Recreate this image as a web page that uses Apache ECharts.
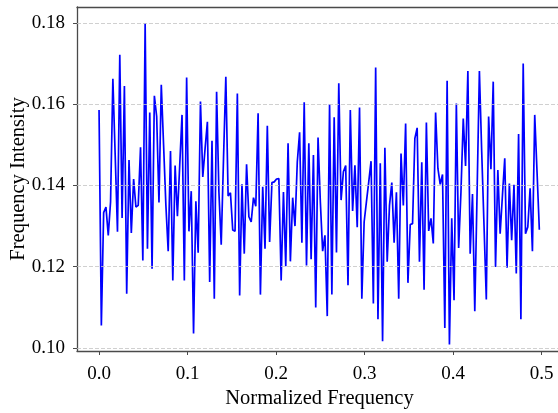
<!DOCTYPE html>
<html>
<head>
<meta charset="utf-8">
<script src="https://cdn.jsdelivr.net/npm/echarts@6/dist/echarts.min.js"></script>
<style>
html,body{margin:0;padding:0;background:#fff;}
#chart{width:558px;height:413px;}
</style>
</head>
<body>
<div id="chart"></div>
<script>
// FFT bin grid: 192 positive-frequency bins of a 384-sample signal
const fftLength = 384;
const binCount = 192;
const xTicks = [0.0, 0.1, 0.2, 0.3, 0.4, 0.5];
const yTicks = [0.10, 0.12, 0.14, 0.16, 0.18];

const intensity = [
0.1586, 0.1055, 0.1333, 0.1347, 0.1277, 0.1360, 0.1663, 0.1475, 0.1286, 0.1722,
0.1320, 0.1645, 0.1133, 0.1463, 0.1283, 0.1416, 0.1347, 0.1351, 0.1494, 0.1215,
0.1800, 0.1244, 0.1580, 0.1195, 0.1621, 0.1570, 0.1358, 0.1648, 0.1500, 0.1351,
0.1238, 0.1485, 0.1166, 0.1449, 0.1324, 0.1450, 0.1574, 0.1166, 0.1666, 0.1287,
0.1386, 0.1035, 0.1361, 0.1234, 0.1607, 0.1421, 0.1491, 0.1557, 0.1162, 0.1510,
0.1121, 0.1631, 0.1384, 0.1254, 0.1467, 0.1668, 0.1374, 0.1382, 0.1290, 0.1287,
0.1627, 0.1129, 0.1403, 0.1232, 0.1452, 0.1323, 0.1310, 0.1370, 0.1349, 0.1578,
0.1131, 0.1397, 0.1244, 0.1547, 0.1261, 0.1407, 0.1409, 0.1416, 0.1417, 0.1166,
0.1384, 0.1201, 0.1504, 0.1213, 0.1370, 0.1300, 0.1458, 0.1531, 0.1259, 0.1605,
0.1203, 0.1504, 0.1218, 0.1475, 0.1099, 0.1518, 0.1360, 0.1238, 0.1277, 0.1078,
0.1600, 0.1131, 0.1568, 0.1235, 0.1652, 0.1364, 0.1434, 0.1449, 0.1154, 0.1586,
0.1337, 0.1450, 0.1297, 0.1592, 0.1121, 0.1310, 0.1360, 0.1409, 0.1460, 0.1109,
0.1691, 0.1070, 0.1455, 0.1016, 0.1493, 0.1212, 0.1351, 0.1407, 0.1259, 0.1383,
0.1121, 0.1479, 0.1351, 0.1553, 0.1160, 0.1304, 0.1306, 0.1516, 0.1542, 0.1212,
0.1457, 0.1143, 0.1555, 0.1288, 0.1319, 0.1257, 0.1580, 0.1442, 0.1403, 0.1427,
0.1049, 0.1658, 0.1008, 0.1319, 0.1117, 0.1602, 0.1246, 0.1384, 0.1565, 0.1448,
0.1682, 0.1232, 0.1379, 0.1090, 0.1384, 0.1682, 0.1483, 0.1302, 0.1119, 0.1570,
0.1440, 0.1656, 0.1199, 0.1438, 0.1281, 0.1376, 0.1467, 0.1197, 0.1405, 0.1265,
0.1402, 0.1183, 0.1527, 0.1070, 0.1701, 0.1281, 0.1298, 0.1393, 0.1238, 0.1574,
0.1434, 0.1291
];

const freqs = [];
for (let i = 0; i < binCount; i++) freqs.push(i / fftLength);
const seriesData = freqs.map((f, i) => [f, intensity[i]]);

const FONT = "'Liberation Serif', 'DejaVu Serif', serif";
const SPINE = '#4a4a4a';
const chart = echarts.init(document.getElementById('chart'), null, {renderer: 'canvas'});
chart.setOption({
  animation: false,
  backgroundColor: '#ffffff',
  grid: {left: 77, right: -4, top: 7, bottom: 62, show: false, containLabel: false, outerBoundsMode: 'none'},
  xAxis: [{
    type: 'value',
    position: 'bottom',
    min: -0.0249, max: 0.523,
    name: 'Normalized Frequency',
    nameLocation: 'middle',
    nameGap: 37,
    nameMoveOverlap: false,
    nameTextStyle: {fontFamily: FONT, fontSize: 20.5, color: '#000'},
    axisLine: {show: true, onZero: false, lineStyle: {color: SPINE, width: 1.3}},
    axisTick: {show: true, inside: false, length: 4, customValues: xTicks, lineStyle: {color: SPINE, width: 1}},
    axisLabel: {show: true, customValues: xTicks, margin: 14, fontFamily: FONT, fontSize: 19, color: '#000',
      formatter: v => v.toFixed(1)},
    splitLine: {show: false}
  }, {
    type: 'value',
    position: 'top',
    min: -0.0249, max: 0.523,
    axisLine: {show: true, onZero: false, lineStyle: {color: SPINE, width: 1.3}},
    axisTick: {show: false},
    axisLabel: {show: false},
    splitLine: {show: false}
  }],
  yAxis: {
    type: 'value',
    min: 0.0992, max: 0.184,
    name: 'Frequency Intensity',
    nameLocation: 'middle',
    nameGap: 48,
    nameMoveOverlap: false,
    nameTextStyle: {fontFamily: FONT, fontSize: 20.5, color: '#000'},
    axisLine: {show: true, onZero: false, lineStyle: {color: SPINE, width: 1.3}},
    axisTick: {show: true, inside: false, length: 4, customValues: yTicks, lineStyle: {color: SPINE, width: 1}},
    axisLabel: {show: true, customValues: yTicks, margin: 12, fontFamily: FONT, fontSize: 19, color: '#000',
      formatter: v => v.toFixed(2)},
    splitLine: {show: false}
  },
  series: [
    {
      type: 'line',
      data: [],
      z: 1,
      silent: true,
      markLine: {
        silent: true,
        symbol: 'none',
        label: {show: false},
        lineStyle: {color: '#c4c4c4', width: 0.8, type: [4, 2]},
        data: yTicks.map(v => ({yAxis: v}))
      }
    },
    {
      type: 'line',
      data: seriesData,
      z: 3,
      showSymbol: false,
      symbol: 'none',
      lineStyle: {color: '#0000ff', width: 1.7},
      itemStyle: {color: '#0000ff'}
    }
  ]
});
</script>
</body>
</html>
